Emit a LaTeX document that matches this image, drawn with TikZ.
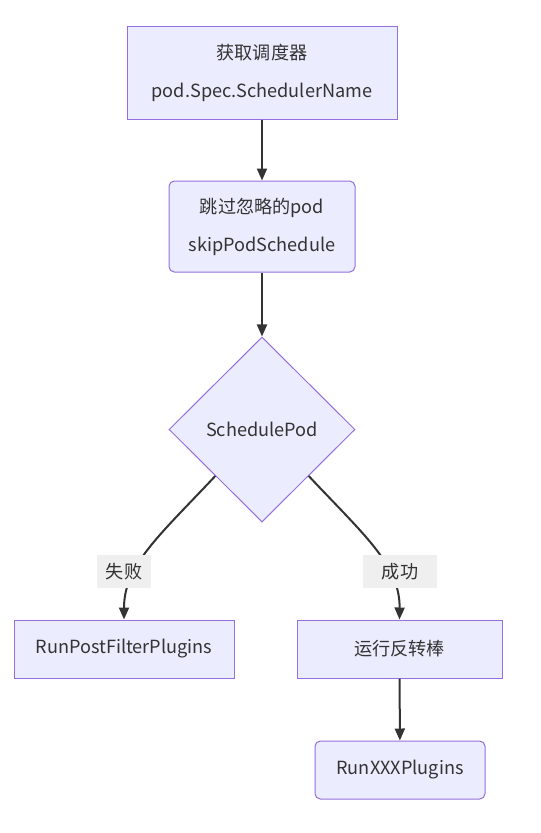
\documentclass[tikz,border=0pt]{standalone}
\usepackage{fontspec}
\setmainfont{Noto Sans CJK SC}
\usepackage{xcolor}
\usetikzlibrary{arrows.meta}
\usetikzlibrary{shapes.geometric}
\definecolor{nodefill}{HTML}{ECECFF}
\definecolor{nodeline}{HTML}{9370DB}
\definecolor{edgeline}{HTML}{333333}
\definecolor{labelfill}{HTML}{EFEFEF}

\tikzset{
  box/.style={draw=nodeline, fill=nodefill, line width=0.75pt, inner sep=0pt,
    text=edgeline, align=center, font=\fontsize{13.6}{28.5}\selectfont},
  roundbox/.style={box, rounded corners=4pt},
  decision/.style={box, diamond, aspect=1},
  edge/.style={draw=edgeline, line width=1.5pt, -{Triangle[length=9pt,width=7.5pt]}},
  edgelabel/.style={fill=labelfill, text=edgeline, inner sep=0pt,
    minimum width=40.5pt, minimum height=24.75pt, font=\fontsize{13.6}{15}\selectfont}
}

\begin{document}
\begin{tikzpicture}[x=0.75pt, y=-0.75pt]
\useasboundingbox (0,0) rectangle (541,833);

% nodes
\node[box, minimum width=202.5pt, minimum height=69.75pt] (getsched) at (262,72.5)
  {获取调度器\\pod.Spec.SchedulerName};
\node[roundbox, minimum width=139.5pt, minimum height=68.25pt] (skippod) at (262,226.5)
  {跳过忽略的pod\\skipPodSchedule};
\node[decision, minimum width=139.5pt, minimum height=138.75pt] (schedpod) at (262,429.5)
  {SchedulePod};
\node[box, minimum width=165pt, minimum height=43.5pt] (postfilter) at (124,649)
  {RunPostFilterPlugins};
\node[box, minimum width=153.75pt, minimum height=43.5pt] (runbind) at (399.5,649)
  {运行反转棒};
\node[roundbox, minimum width=127.5pt, minimum height=43.5pt] (runxxx) at (400,770)
  {RunXXXPlugins};

% connectors
\draw[edge] (getsched) -- (skippod);
\draw[edge] (skippod) -- (schedpod);
\draw[edge] (schedpod.south west) .. controls (160,535) and (124,565) .. (postfilter.north);
\draw[edge] (schedpod.south east) .. controls (364,535) and (400,565) .. (runbind.north);
\draw[edge] (runbind) -- (runxxx);

% labels
\node[edgelabel] (fail) at (124,571.5) {失败};
\node[edgelabel, minimum width=55.5pt] (success) at (400,571.5) {成功};
\end{tikzpicture}
\end{document}
